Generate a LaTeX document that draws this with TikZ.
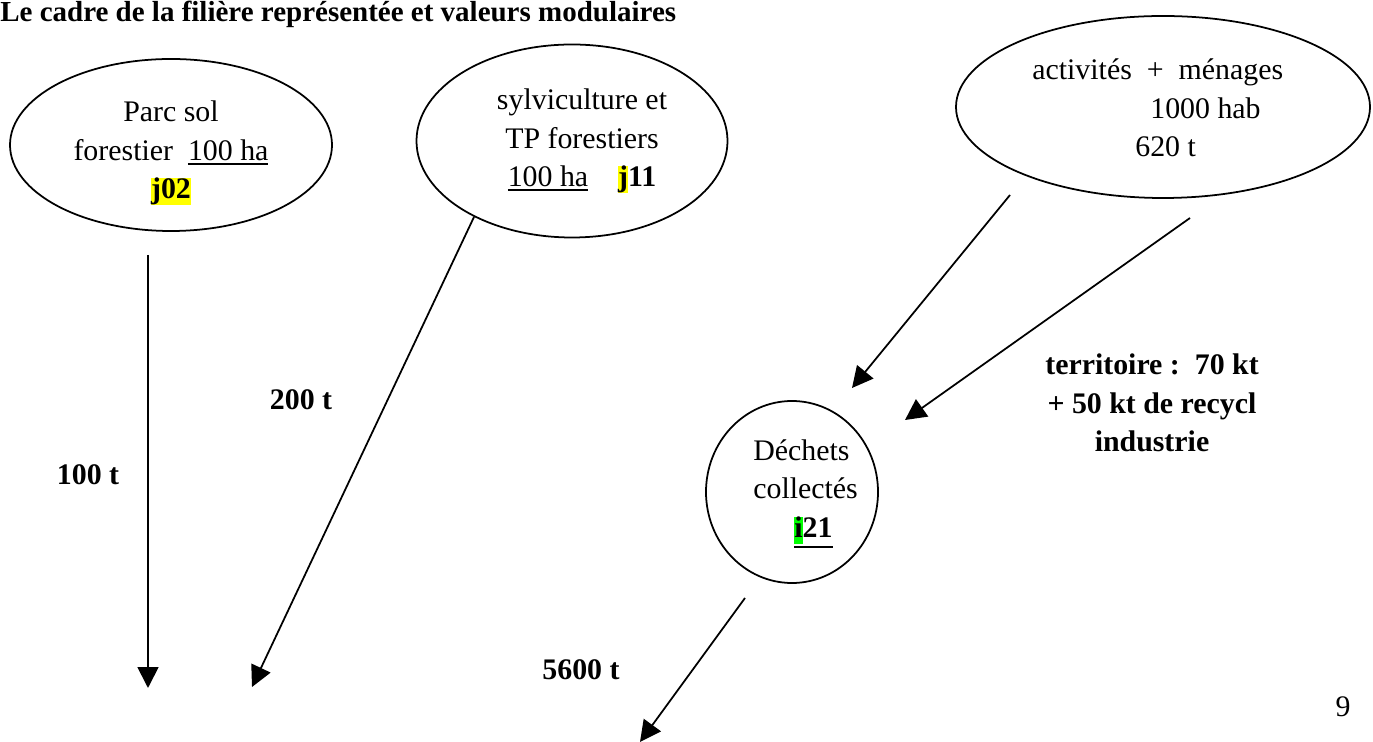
\documentclass[tikz,border=0pt]{standalone}
\usepackage{fontspec}
\setmainfont{Liberation Serif}
\usepackage{xcolor}
\usetikzlibrary{shapes.geometric}
\usetikzlibrary{arrows.meta}

\definecolor{surjaune}{RGB}{255,255,0}
\definecolor{survert}{RGB}{0,255,0}
\newcommand{\surligne}[2]{{\setlength{\fboxsep}{0pt}\colorbox{#1}{\rule[-0.22em]{0pt}{0.92em}#2}}}
\newcommand{\souligne}[1]{\leavevmode\vtop{\hbox{#1}\kern1.3pt\hrule height1.1pt}}

\begin{document}
\begin{tikzpicture}[x=0.02cm,y=-0.02cm,
    every node/.style={font=\fontsize{17}{22}\selectfont, inner sep=0pt},
    bulle/.style={draw, ellipse, line width=1pt},
    texte/.style={align=center},
    valeur/.style={font=\fontsize{17}{22}\selectfont\bfseries, align=center},
    fleche/.style={line width=1pt, -{Triangle[length=0.42cm,width=0.42cm]}}]
    \useasboundingbox (0,0) rectangle (1373,742);

    % titre
    \node[anchor=base west, font=\fontsize{16.5}{20}\selectfont\bfseries] (titre) at (0,22)
        {Le cadre de la filière représentée et valeurs modulaires};

    % ellipses
    \node[bulle, minimum width=322*0.02cm, minimum height=172*0.02cm] (parc) at (171,145) {};
    \node[texte] (parctxt) at (171,153) {Parc sol\\forestier~~\souligne{100 ha}\\\surligne{surjaune}{\textbf{j02}}};

    \node[bulle, minimum width=311*0.02cm, minimum height=193*0.02cm] (sylvi) at (572,141) {};
    \node[texte] (sylvitxt) at (582,141) {sylviculture et\\TP forestiers\\\souligne{100 ha}\quad\surligne{surjaune}{\textbf{j}}\textbf{11}};

    \node[bulle, minimum width=414*0.02cm, minimum height=182*0.02cm] (menages) at (1163,107) {};
    \node[align=left, anchor=west] (menagestxt) at (1032,108)
        {activités~~+~~ménages\\\hspace*{2.36cm}1000 hab\\\hspace*{2.06cm}620 t};

    \node[bulle, minimum width=172*0.02cm, minimum height=182*0.02cm] (dechets) at (792,492) {};
    \node[align=left, anchor=west] (dechetstxt) at (753,494)
        {Déchets\\collectés\\\hspace*{0.82cm}\souligne{\textbf{\surligne{survert}{i}21}}};

    % extremites des fleches
    \coordinate (a1) at (148,255);  \coordinate (b1) at (148,688);
    \coordinate (a2) at (474,217);  \coordinate (b2) at (252,687);
    \coordinate (a3) at (1010,195); \coordinate (b3) at (852,388);
    \coordinate (a4) at (1190,218); \coordinate (b4) at (905,420);
    \coordinate (a5) at (745,598);  \coordinate (b5) at (640,742);

    \draw[fleche] (a1) -- (b1);
    \draw[fleche] (a2) -- (b2);
    \draw[fleche] (a3) -- (b3);
    \draw[fleche] (a4) -- (b4);
    \draw[fleche] (a5) -- (b5);

    % valeurs
    \node[valeur, anchor=base] (v100) at (88,485) {100 t};
    \node[valeur, anchor=base] (v200) at (301,410) {200 t};
    \node[valeur, anchor=base] (v5600) at (581,680) {5600 t};
    \node[valeur] (terr) at (1152,403) {territoire :~~70 kt\\+ 50 kt de recycl\\industrie};

    \node[anchor=base] (page) at (1343,717) {9};
\end{tikzpicture}
\end{document}
